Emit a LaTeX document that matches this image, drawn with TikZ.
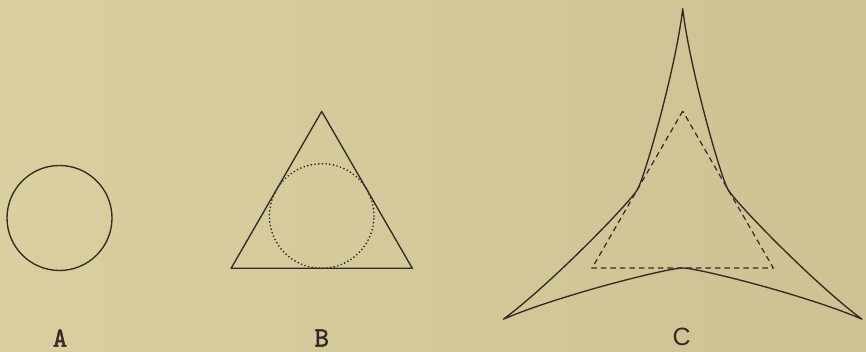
\documentclass[tikz,border=0pt]{standalone}
\usepackage{fontspec}
\usepackage{tikz}
\usetikzlibrary{calc}
\newfontfamily\slabfont[FakeBold=1.6]{lmmono10-regular.otf}
\newfontfamily\grotfont{Liberation Sans}
\definecolor{paper}{RGB}{218, 207, 160}
\definecolor{paperdark}{RGB}{206, 194, 148}
\definecolor{ink}{RGB}{52, 44, 34}

\begin{document}
\begin{tikzpicture}[x=1pt, y=1pt,
  outline/.style={draw=ink, line width=1.35pt, line join=round},
  dotline/.style={draw=ink, line width=1.9pt, line cap=round, dash pattern=on 0pt off 3.7pt},
  dashline/.style={draw=ink, line width=1.2pt, dash pattern=on 5.5pt off 4pt},
  letter/.style={text=ink, inner sep=0pt, font=\fontsize{28}{28}\selectfont\slabfont}]
  \useasboundingbox (0,0) rectangle (866,352);
  \shade[left color=paper, right color=paperdark] (0,0) rectangle (866,352);

  % centres
  \coordinate (cA) at (59.5,134);
  \coordinate (cB) at (321.7,136);
  \coordinate (cC) at (682.7,136.3);

  % A
  \draw[outline] (cA) circle (52.5);
  \node[letter] (labA) at (60,14) {A};

  % B
  \draw[outline] ($(cB)+(90:104.6)$) -- ($(cB)+(210:104.6)$) -- ($(cB)+(330:104.6)$) -- cycle;
  \draw[dotline] (cB) circle (52.3);
  \node[letter] (labB) at (321.7,14) {B};

  % C
  \draw[dashline] ($(cC)+(90:104.6)$) -- ($(cC)+(210:104.6)$) -- ($(cC)+(330:104.6)$) -- cycle;
  \draw[outline] ($(cC)+(210:207)$)
    \foreach \a in {0,120,240} {
      .. controls ($(cC)+(\a+212.6:148.4)$) and ($(cC)+(\a+254:54.4)$) .. ($(cC)+(\a+270:52.3)$)
      .. controls ($(cC)+(\a+286:54.4)$) and ($(cC)+(\a+327.4:148.4)$) .. ($(cC)+(\a+330:207)$)
    } -- cycle;
  \node[letter, font=\fontsize{25}{25}\selectfont\grotfont] (labC) at (681.7,15) {C};
\end{tikzpicture}
\end{document}
